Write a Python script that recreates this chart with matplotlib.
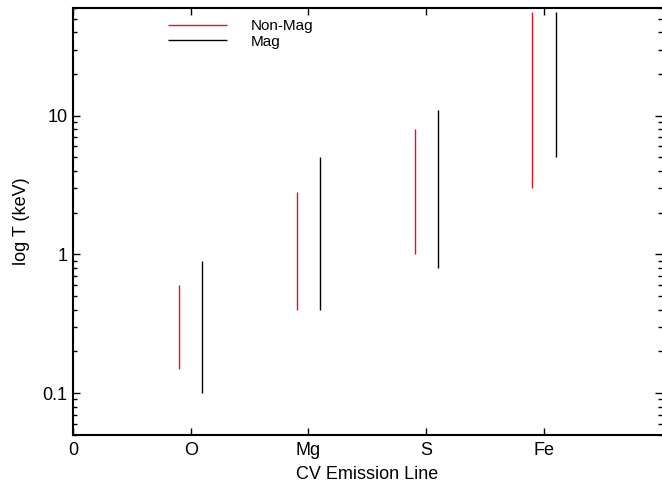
#!/usr/bin/env python

import matplotlib
matplotlib.use("Agg")
import matplotlib.pyplot as plt
import matplotlib.ticker as ticker

# Emission lines and their temperature ranges (keV)
lines = ["O", "Mg", "S", "Fe"]
line_pos = [1, 2, 3, 4]
nonmag_low = [0.15, 0.4, 1.0, 3.0]
nonmag_high = [0.6, 2.8, 8.0, 56.0]
mag_low = [0.1, 0.4, 0.8, 5.0]
mag_high = [0.9, 5.0, 11.0, 56.0]
x_ticks = [0, 1, 2, 3, 4]
x_ticklabels = ["0", "O", "Mg", "S", "Fe"]


def main() -> int:
    plt.rcParams["font.family"] = ["Liberation Sans", "DejaVu Sans"]
    plt.rcParams["font.size"] = 13

    fig = plt.figure(figsize=(6.62, 4.87), dpi=100)
    ax = fig.add_axes([0.110, 0.107, 0.890, 0.877])

    offset = 0.1
    ax.vlines([p - offset for p in line_pos], nonmag_low, nonmag_high,
              colors="#e8141c", linewidth=1.0, label="Non-Mag")
    ax.vlines([p + offset for p in line_pos], mag_low, mag_high,
              colors="black", linewidth=1.0, label="Mag")

    ax.set_yscale("log")
    ax.set_ylim(0.05, 60)
    ax.set_xlim(0, 5)

    ax.set_xticks(x_ticks)
    ax.set_xticklabels(x_ticklabels)
    ax.yaxis.set_major_locator(ticker.FixedLocator([0.1, 1, 10]))
    ax.yaxis.set_major_formatter(ticker.FixedFormatter(["0.1", "1", "10"]))
    ax.yaxis.set_minor_locator(
        ticker.LogLocator(base=10, subs=(2, 3, 4, 5, 6, 7, 8, 9), numticks=12)
    )
    ax.yaxis.set_minor_formatter(ticker.NullFormatter())

    ax.tick_params(which="both", direction="in", top=True, right=True,
                   width=1.0, labelsize=13)
    ax.tick_params(which="major", length=5)
    ax.tick_params(which="minor", length=3)
    ax.tick_params(axis="x", which="major", pad=5)
    ax.tick_params(axis="y", which="major", pad=4)
    for side in ["left", "bottom", "top"]:
        ax.spines[side].set_linewidth(1.5)
    ax.spines["right"].set_visible(False)

    ax.set_xlabel("CV Emission Line", fontsize=13, labelpad=5)
    ax.set_ylabel("log T (keV)", fontsize=13, labelpad=9)

    ax.legend(loc="upper left", bbox_to_anchor=(0.1385, 1.006), frameon=False,
              handlelength=3.86, handletextpad=1.57, labelspacing=0.1,
              fontsize=11)

    fig.savefig("out.png", dpi=100)
    return 0


if __name__ == "__main__":
    main()
